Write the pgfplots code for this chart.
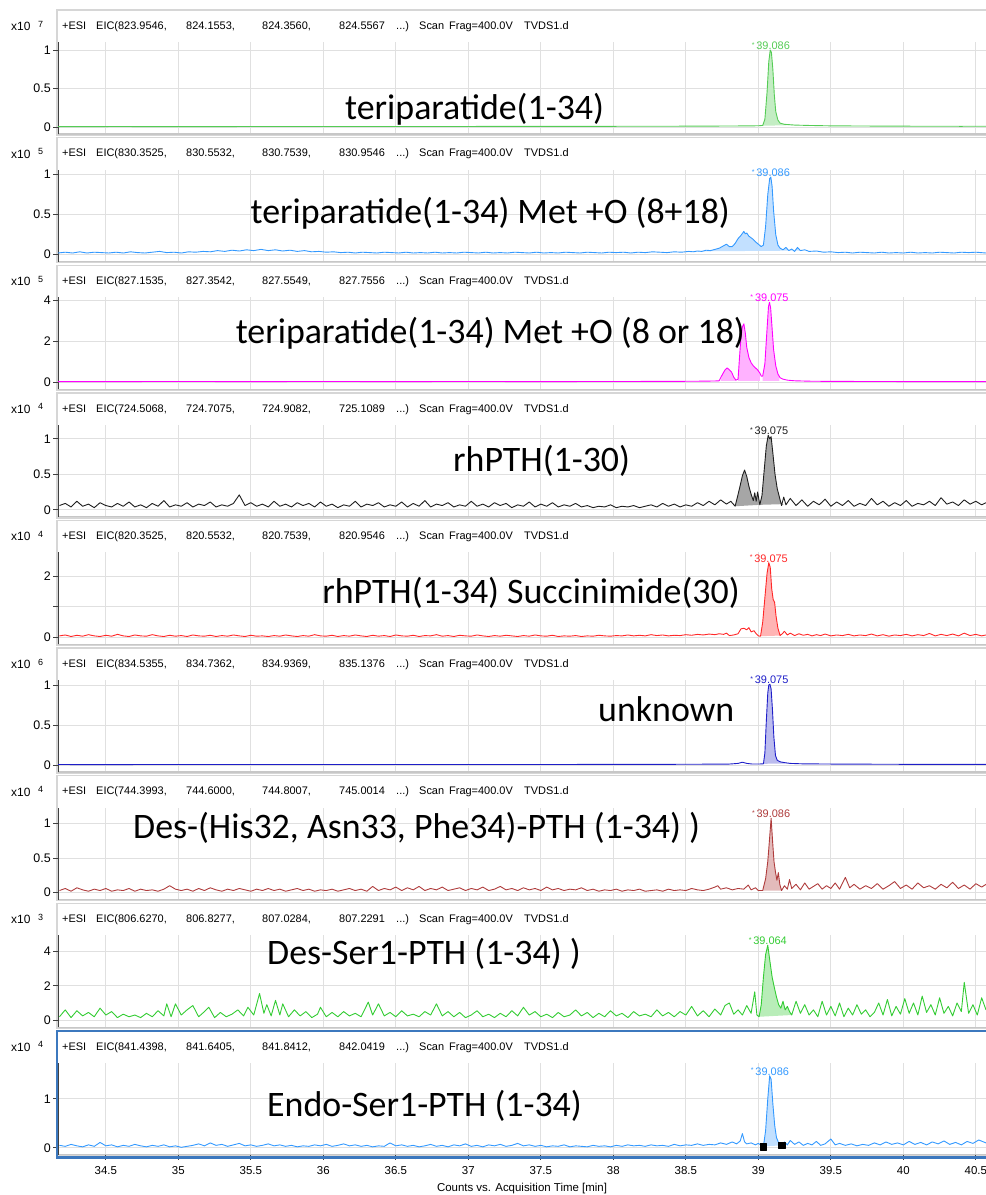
\documentclass[border=0pt]{standalone}
\usepackage{pgfplots}
\pgfplotsset{compat=1.18}
\usepackage{fontspec}
\setmainfont{Liberation Sans}
\newfontfamily\calib{Carlito}

\definecolor{cgreen}{RGB}{85,204,85}
\definecolor{cblue}{RGB}{51,153,255}
\definecolor{cmag}{RGB}{255,0,255}
\definecolor{cblack}{RGB}{30,30,30}
\definecolor{cred}{RGB}{255,40,40}
\definecolor{cnavy}{RGB}{30,30,200}
\definecolor{cbrown}{RGB}{175,60,60}
\definecolor{cgreentwo}{RGB}{51,204,51}
\definecolor{cframe}{RGB}{60,120,190}

\newcommand{\hdr}{\fontsize{11}{13}\selectfont}
\newcommand{\tickf}{\fontsize{11.5}{13}\selectfont}
\newcommand{\ytickf}{\fontsize{12.5}{14}\selectfont}
\newcommand{\biglab}{\calib\fontsize{36}{40}\selectfont}
\newcommand{\pk}[1]{\raisebox{2.5bp}{\fontsize{7}{7}\selectfont *}\,#1}

\pgfplotsset{
  chrom/.style={
    scale only axis, width=928bp, height=92bp, anchor=north west,
    xmin=34.17, xmax=40.57,
    xtick={34.5,35,35.5,36,36.5,37,37.5,38,38.5,39,39.5,40,40.5},
    xticklabels={},
    axis lines*=left, axis line style={-},
    x axis line style={draw=black!22, line width=1.2bp},
    y axis line style={draw=black!75, line width=0.9bp},
    tick align=outside, major tick length=5bp,
    xtick style={draw=none},
    ytick style={draw=black!75, line width=0.9bp},
    xmajorgrids, ymajorgrids,
    major grid style={draw=black!12, line width=0.9bp},
    yticklabel style={font=\ytickf, inner xsep=2bp},
    /pgf/number format/assume math mode=true,
    clip=false,
    every axis plot/.append style={line width=0.9bp, line join=round},
  },
}

% frame, header line and exponent of one panel: top edge (px), exponent, four masses
\newcommand{\panel}[6]{%
  \draw[black!16, line width=1.4bp] (57bp,-#1bp) rectangle (987bp,{-(#1+125)*1bp});
  \begin{scope}[every node/.style={anchor=base west, inner sep=0, font=\hdr}]
    \node at (62bp,{-(#1+19.3)*1bp}) {+ESI};
    \node at (96bp,{-(#1+19.3)*1bp}) {EIC(#3,};
    \node at (186bp,{-(#1+19.3)*1bp}) {#4,};
    \node at (262bp,{-(#1+19.3)*1bp}) {#5,};
    \node at (339bp,{-(#1+19.3)*1bp}) {#6};
    \node at (396bp,{-(#1+19.3)*1bp}) {...)};
    \node at (419bp,{-(#1+19.3)*1bp}) {Scan};
    \node at (449bp,{-(#1+19.3)*1bp}) {Frag=400.0V};
    \node at (524bp,{-(#1+19.3)*1bp}) {TVDS1.d};
    \node[font=\fontsize{12}{13}\selectfont] at (11bp,{-(#1+20.5)*1bp}) {x10};
    \node[font=\fontsize{9}{10}\selectfont] at (38bp,{-(#1+17)*1bp}) {#2};
  \end{scope}
}

\begin{document}
\begin{tikzpicture}
\useasboundingbox (0,0) rectangle (986bp,-1195bp);

\panel{10}{7}{823.9546}{824.1553}{824.3560}{824.5567}
\panel{137.6}{5}{830.3525}{830.5532}{830.7539}{830.9546}
\panel{265.2}{5}{827.1535}{827.3542}{827.5549}{827.7556}
\panel{392.8}{4}{724.5068}{724.7075}{724.9082}{725.1089}
\panel{520.4}{4}{820.3525}{820.5532}{820.7539}{820.9546}
\panel{648}{6}{834.5355}{834.7362}{834.9369}{835.1376}
\panel{775.6}{4}{744.3993}{744.6000}{744.8007}{745.0014}
\panel{903.2}{3}{806.6270}{806.8277}{807.0284}{807.2291}
\panel{1030.8}{4}{841.4398}{841.6405}{841.8412}{842.0419}

% ---------- 1: teriparatide(1-34), x10^7
\begin{axis}[chrom, at={(58bp,-42bp)}, ymin=-0.091, ymax=1.104, ytick={0,0.5,1}]
\addplot[draw=none, fill=cgreen!35, forget plot] coordinates {
 (39.03,0.016)(39.045,0.1)(39.06,0.45)(39.072,0.85)(39.082,1.0)(39.09,0.97)(39.1,0.75)
 (39.11,0.42)(39.12,0.2)(39.135,0.09)(39.15,0.05)(39.18,0.035)(39.25,0.025)};
\addplot[cgreen] coordinates {
 (34.17,0.005)(34.6,0.006)(35.0,0.005)(35.5,0.006)(36.0,0.007)(36.5,0.006)(37.0,0.007)
 (37.5,0.008)(38.0,0.009)(38.4,0.010)(38.7,0.012)(38.9,0.014)(39.0,0.016)(39.03,0.02)
 (39.045,0.1)(39.06,0.45)(39.072,0.85)(39.082,1.0)(39.09,0.97)(39.1,0.75)(39.11,0.42)
 (39.12,0.2)(39.135,0.09)(39.15,0.05)(39.18,0.035)(39.25,0.025)(39.35,0.02)(39.5,0.015)
 (39.8,0.012)(40.1,0.01)(40.4,0.009)(40.57,0.01)};
\node[anchor=south, inner sep=0, font=\hdr, text=cgreen] at (axis cs:39.086,1.0) {\pk{39.086}};
\end{axis}

% ---------- 2: Met +O (8+18), x10^5
\begin{axis}[chrom, at={(58bp,-169.6bp)}, ymin=-0.0875, ymax=1.0625, ytick={0,0.5,1}]
\addplot[draw=none, fill=cblue!30, forget plot] coordinates {
 (38.52,0.04)(38.55,0.035)(38.58,0.045)(38.61,0.04)(38.64,0.055)(38.67,0.05)(38.7,0.065)
 (38.73,0.08)(38.76,0.11)(38.78,0.13)(38.8,0.1)(38.82,0.1)(38.84,0.14)(38.86,0.2)(38.88,0.24)
 (38.9,0.29)(38.91,0.26)(38.92,0.27)(38.935,0.23)(38.95,0.21)(38.965,0.19)(38.98,0.16)
 (39.0,0.13)(39.02,0.1)(39.035,0.12)(39.05,0.35)(39.065,0.75)(39.078,0.95)(39.086,0.97)
 (39.095,0.85)(39.105,0.55)(39.12,0.25)(39.135,0.12)(39.15,0.08)(39.17,0.06)(39.19,0.09)
 (39.21,0.05)(39.23,0.07)(39.25,0.04)(39.27,0.09)(39.29,0.05)};
\addplot[cblue] coordinates {
 (34.17,0.02)(34.22,0.03)(34.27,0.02)(34.32,0.035)(34.37,0.02)(34.42,0.03)(34.47,0.025)
 (34.52,0.02)(34.57,0.03)(34.62,0.02)(34.67,0.035)(34.72,0.025)(34.77,0.02)(34.82,0.03)
 (34.87,0.04)(34.92,0.025)(34.97,0.03)(35.02,0.02)(35.07,0.035)(35.12,0.03)(35.17,0.04)
 (35.22,0.035)(35.27,0.05)(35.32,0.04)(35.37,0.055)(35.42,0.045)(35.47,0.06)(35.52,0.05)
 (35.57,0.065)(35.62,0.05)(35.67,0.06)(35.72,0.045)(35.77,0.055)(35.82,0.04)(35.87,0.05)
 (35.92,0.035)(35.97,0.04)(36.02,0.03)(36.07,0.035)(36.12,0.025)(36.17,0.03)(36.22,0.02)
 (36.27,0.03)(36.32,0.025)(36.37,0.02)(36.42,0.03)(36.47,0.025)(36.52,0.02)(36.57,0.03)
 (36.62,0.02)(36.67,0.025)(36.72,0.02)(36.77,0.03)(36.82,0.02)(36.87,0.025)(36.92,0.02)
 (36.97,0.03)(37.02,0.025)(37.07,0.02)(37.12,0.03)(37.17,0.02)(37.22,0.025)(37.27,0.02)
 (37.32,0.03)(37.37,0.025)(37.42,0.02)(37.47,0.03)(37.52,0.02)(37.57,0.025)(37.62,0.02)
 (37.67,0.03)(37.72,0.025)(37.77,0.02)(37.82,0.03)(37.87,0.025)(37.92,0.02)(37.97,0.03)
 (38.02,0.025)(38.07,0.03)(38.12,0.02)(38.17,0.03)(38.22,0.025)(38.27,0.035)(38.32,0.03)
 (38.37,0.025)(38.42,0.035)(38.47,0.03)(38.52,0.04)
 (38.55,0.035)(38.58,0.045)(38.61,0.04)(38.64,0.055)(38.67,0.05)(38.7,0.065)(38.73,0.08)
 (38.76,0.11)(38.78,0.13)(38.8,0.1)(38.82,0.1)(38.84,0.14)(38.86,0.2)(38.88,0.24)(38.9,0.29)
 (38.91,0.26)(38.92,0.27)(38.935,0.23)(38.95,0.21)(38.965,0.19)(38.98,0.16)(39.0,0.13)
 (39.02,0.1)(39.035,0.12)(39.05,0.35)(39.065,0.75)(39.078,0.95)(39.086,0.97)(39.095,0.85)
 (39.105,0.55)(39.12,0.25)(39.135,0.12)(39.15,0.08)(39.17,0.06)(39.19,0.09)(39.21,0.05)
 (39.23,0.07)(39.25,0.04)(39.27,0.09)(39.29,0.05)(39.32,0.06)(39.35,0.04)(39.4,0.045)
 (39.45,0.03)(39.5,0.035)(39.55,0.025)(39.6,0.03)(39.65,0.02)(39.7,0.03)(39.75,0.025)
 (39.8,0.02)(39.85,0.03)(39.9,0.02)(39.95,0.025)(40.0,0.02)(40.05,0.03)(40.1,0.02)
 (40.15,0.025)(40.2,0.02)(40.25,0.03)(40.3,0.025)(40.35,0.02)(40.4,0.03)(40.45,0.025)
 (40.5,0.03)(40.57,0.02)};
\node[anchor=south, inner sep=0, font=\hdr, text=cblue] at (axis cs:39.086,0.97) {\pk{39.086}};
\end{axis}

% ---------- 3: Met +O (8 or 18), x10^5
\begin{axis}[chrom, at={(58bp,-297.2bp)}, ymin=-0.341, ymax=4.146, ytick={0,2,4}]
\addplot[draw=none, fill=cmag!30, forget plot] coordinates {
 (38.74,0.06)(38.75,0.35)(38.77,0.6)(38.785,0.7)(38.8,0.6)(38.815,0.5)(38.83,0.25)
 (38.845,0.1)(38.845,0.06)};
\addplot[draw=none, fill=cmag!30, forget plot] coordinates {
 (38.86,0.06)(38.86,0.15)(38.87,1.2)(38.88,2.2)(38.89,2.7)(38.9,2.85)(38.91,2.4)(38.92,1.7)
 (38.935,1.2)(38.95,0.95)(38.965,0.8)(38.98,0.7)(38.995,0.6)(39.01,0.45)(39.01,0.06)};
\addplot[draw=none, fill=cmag!30, forget plot] coordinates {
 (39.03,0.06)(39.03,0.3)(39.045,0.9)(39.06,2.6)(39.07,3.7)(39.077,3.9)(39.085,3.6)
 (39.095,2.6)(39.105,1.6)(39.12,0.8)(39.135,0.4)(39.145,0.3)(39.145,0.06)};
\addplot[cmag] coordinates {
 (34.17,0.03)(34.5,0.03)(35,0.035)(35.5,0.03)(36,0.035)(36.5,0.03)(37,0.035)(37.5,0.03)
 (38,0.035)(38.4,0.04)(38.6,0.05)(38.7,0.06)(38.73,0.07)(38.75,0.35)(38.77,0.6)(38.785,0.7)
 (38.8,0.6)(38.815,0.5)(38.83,0.25)(38.845,0.1)(38.86,0.15)(38.87,1.2)(38.88,2.2)(38.89,2.7)
 (38.9,2.85)(38.91,2.4)(38.92,1.7)(38.935,1.2)(38.95,0.95)(38.965,0.8)(38.98,0.7)
 (38.995,0.6)(39.01,0.45)(39.02,0.3)(39.03,0.3)(39.045,0.9)(39.06,2.6)(39.07,3.7)
 (39.077,3.9)(39.085,3.6)(39.095,2.6)(39.105,1.6)(39.12,0.8)(39.135,0.4)(39.15,0.22)
 (39.17,0.15)(39.2,0.1)(39.25,0.07)(39.35,0.05)(39.5,0.04)(39.8,0.035)(40.1,0.03)
 (40.4,0.03)(40.57,0.03)};
\node[anchor=south, inner sep=0, font=\hdr, text=cmag] at (axis cs:39.077,3.9) {\pk{39.075}};
\end{axis}

% ---------- 4: rhPTH(1-30), x10^4
\begin{axis}[chrom, at={(58bp,-424.8bp)}, ymin=-0.0986, ymax=1.197, ytick={0,0.5,1}]
\addplot[draw=none, fill=black!35, forget plot] coordinates {
 (38.84,0.05)(38.87,0.30)(38.89,0.48)(38.905,0.56)(38.92,0.47)(38.935,0.33)(38.95,0.22)
 (38.965,0.13)(38.975,0.24)(38.985,0.12)(38.995,0.25)(39.01,0.07)};
\addplot[draw=none, fill=black!35, forget plot] coordinates {
 (39.01,0.07)(39.025,0.2)(39.04,0.55)(39.055,0.9)(39.068,1.05)(39.078,1.0)(39.088,1.03)
 (39.1,0.8)(39.115,0.5)(39.13,0.3)(39.145,0.18)(39.16,0.06)(39.175,0.08)};
\addplot[cblack] coordinates {
 (34.18,0.06)(34.22,0.09)(34.26,0.04)(34.30,0.12)(34.34,0.05)(34.38,0.08)(34.42,0.03)
 (34.46,0.10)(34.50,0.06)(34.54,0.04)(34.58,0.09)(34.62,0.05)(34.66,0.11)(34.70,0.04)
 (34.74,0.07)(34.78,0.03)(34.82,0.09)(34.86,0.05)(34.90,0.13)(34.94,0.04)(34.98,0.07)
 (35.02,0.05)(35.06,0.10)(35.10,0.04)(35.14,0.08)(35.18,0.06)(35.22,0.11)(35.26,0.04)
 (35.30,0.07)(35.34,0.05)(35.38,0.09)(35.42,0.21)(35.46,0.06)(35.50,0.10)(35.54,0.05)
 (35.58,0.08)(35.62,0.04)(35.66,0.12)(35.70,0.05)(35.74,0.08)(35.78,0.04)(35.82,0.10)
 (35.86,0.06)(35.90,0.09)(35.94,0.04)(35.98,0.11)(36.02,0.05)(36.06,0.08)(36.10,0.03)
 (36.14,0.07)(36.18,0.05)(36.22,0.12)(36.26,0.04)(36.30,0.08)(36.34,0.06)(36.38,0.10)
 (36.42,0.04)(36.46,0.07)(36.50,0.05)(36.54,0.11)(36.58,0.04)(36.62,0.09)(36.66,0.05)
 (36.70,0.13)(36.74,0.04)(36.78,0.08)(36.82,0.06)(36.86,0.10)(36.90,0.04)(36.94,0.07)
 (36.98,0.05)(37.02,0.12)(37.06,0.05)(37.10,0.08)(37.14,0.04)(37.18,0.10)(37.22,0.06)
 (37.26,0.09)(37.30,0.03)(37.34,0.07)(37.38,0.05)(37.42,0.11)(37.46,0.04)(37.50,0.08)
 (37.54,0.05)(37.58,0.10)(37.62,0.04)(37.66,0.07)(37.70,0.05)(37.74,0.09)(37.78,0.04)
 (37.82,0.06)(37.86,0.03)(37.90,0.05)(37.94,0.04)(37.98,0.07)(38.02,0.03)(38.06,0.05)
 (38.10,0.04)(38.14,0.06)(38.18,0.03)(38.22,0.05)(38.26,0.07)(38.30,0.04)(38.34,0.09)
 (38.38,0.05)(38.42,0.08)(38.46,0.04)(38.50,0.07)(38.54,0.05)(38.58,0.10)(38.62,0.06)
 (38.66,0.12)(38.70,0.07)(38.74,0.14)(38.78,0.08)(38.81,0.12)
 (38.84,0.05)(38.87,0.30)(38.89,0.48)(38.905,0.56)(38.92,0.47)(38.935,0.33)(38.95,0.22)
 (38.965,0.13)(38.975,0.24)(38.985,0.12)(38.995,0.25)(39.01,0.07)(39.025,0.2)(39.04,0.55)
 (39.055,0.9)(39.068,1.05)(39.078,1.0)(39.088,1.03)(39.1,0.8)(39.115,0.5)(39.13,0.3)
 (39.145,0.18)(39.16,0.06)(39.175,0.18)(39.19,0.07)(39.22,0.16)(39.26,0.06)(39.30,0.14)
 (39.34,0.05)(39.38,0.12)(39.42,0.07)(39.46,0.15)(39.50,0.05)(39.54,0.11)(39.58,0.06)
 (39.62,0.13)(39.66,0.05)(39.70,0.09)(39.74,0.06)(39.78,0.16)(39.82,0.07)(39.86,0.12)
 (39.90,0.05)(39.94,0.10)(39.98,0.06)(40.02,0.13)(40.06,0.05)(40.10,0.09)(40.14,0.07)
 (40.18,0.12)(40.22,0.06)(40.26,0.17)(40.30,0.08)(40.34,0.11)(40.38,0.06)(40.42,0.14)
 (40.46,0.08)(40.50,0.12)(40.54,0.07)(40.57,0.10)};
\node[anchor=south, inner sep=0, font=\hdr, text=cblack] at (axis cs:39.075,1.05) {\pk{39.075}};
\end{axis}

% ---------- 5: rhPTH(1-34) Succinimide(30), x10^4
\begin{axis}[chrom, at={(58bp,-552.4bp)}, ymin=-0.2295, ymax=2.787, ytick={0,1,2}, yticklabels={0,,2}]
\addplot[draw=none, fill=cred!35, forget plot] coordinates {
 (39.015,0.04)(39.03,0.5)(39.045,1.3)(39.06,2.1)(39.072,2.45)(39.082,2.3)(39.092,1.6)
 (39.102,1.25)(39.112,1.15)(39.122,0.7)(39.135,0.3)(39.15,0.06)};
\addplot[cred] coordinates {
 (34.18,0.05)(34.22,0.08)(34.26,0.03)(34.30,0.07)(34.34,0.04)(34.38,0.09)(34.42,0.05)
 (34.46,0.03)(34.50,0.07)(34.54,0.04)(34.58,0.10)(34.62,0.05)(34.66,0.03)(34.70,0.08)
 (34.74,0.05)(34.78,0.04)(34.82,0.09)(34.86,0.05)(34.90,0.03)(34.94,0.07)(34.98,0.04)
 (35.02,0.06)(35.06,0.03)(35.10,0.08)(35.14,0.05)(35.18,0.04)(35.22,0.07)(35.26,0.03)
 (35.30,0.06)(35.34,0.04)(35.38,0.08)(35.42,0.05)(35.46,0.03)(35.50,0.07)(35.54,0.04)
 (35.58,0.05)(35.62,0.03)(35.66,0.06)(35.70,0.04)(35.74,0.08)(35.78,0.05)(35.82,0.03)
 (35.86,0.06)(35.90,0.04)(35.94,0.09)(35.98,0.05)(36.02,0.04)(36.06,0.07)(36.10,0.03)
 (36.14,0.06)(36.18,0.04)(36.22,0.08)(36.26,0.05)(36.30,0.03)(36.34,0.07)(36.38,0.04)
 (36.42,0.06)(36.46,0.03)(36.50,0.08)(36.54,0.05)(36.58,0.04)(36.62,0.07)(36.66,0.03)
 (36.70,0.06)(36.74,0.05)(36.78,0.09)(36.82,0.04)(36.86,0.06)(36.90,0.03)(36.94,0.07)
 (36.98,0.05)(37.02,0.04)(37.06,0.08)(37.10,0.05)(37.14,0.03)(37.18,0.06)(37.22,0.04)
 (37.26,0.07)(37.30,0.05)(37.34,0.03)(37.38,0.06)(37.42,0.04)(37.46,0.08)(37.50,0.05)
 (37.54,0.04)(37.58,0.07)(37.62,0.03)(37.66,0.05)(37.70,0.04)(37.74,0.06)(37.78,0.03)
 (37.82,0.05)(37.86,0.04)(37.90,0.07)(37.94,0.05)(37.98,0.04)(38.02,0.06)(38.06,0.05)
 (38.10,0.08)(38.14,0.05)(38.18,0.07)(38.22,0.05)(38.26,0.09)(38.30,0.06)(38.34,0.08)
 (38.38,0.05)(38.42,0.07)(38.46,0.06)(38.50,0.09)(38.54,0.07)(38.58,0.10)(38.62,0.08)
 (38.66,0.11)(38.70,0.09)(38.73,0.12)(38.76,0.10)(38.78,0.14)(38.80,0.06)(38.83,0.08)
 (38.86,0.12)(38.88,0.28)(38.90,0.30)(38.92,0.25)(38.935,0.32)(38.95,0.18)(38.97,0.22)
 (38.985,0.12)(39.0,0.05)(39.015,0.04)(39.03,0.5)(39.045,1.3)(39.06,2.1)(39.072,2.45)
 (39.082,2.3)(39.092,1.6)(39.102,1.25)(39.112,1.15)(39.122,0.7)(39.135,0.3)(39.15,0.06)
 (39.165,0.12)(39.18,0.20)(39.2,0.08)(39.22,0.14)(39.25,0.06)(39.28,0.12)(39.31,0.07)
 (39.34,0.10)(39.37,0.05)(39.40,0.09)(39.43,0.06)(39.46,0.11)(39.50,0.05)(39.54,0.08)
 (39.58,0.06)(39.62,0.10)(39.66,0.05)(39.70,0.08)(39.74,0.06)(39.78,0.11)(39.82,0.05)
 (39.86,0.09)(39.90,0.04)(39.94,0.08)(39.98,0.06)(40.02,0.10)(40.06,0.05)(40.10,0.09)
 (40.14,0.06)(40.18,0.13)(40.22,0.05)(40.26,0.10)(40.30,0.06)(40.34,0.11)(40.38,0.05)
 (40.42,0.14)(40.46,0.06)(40.50,0.10)(40.54,0.05)(40.57,0.08)};
\node[anchor=south, inner sep=0, font=\hdr, text=cred] at (axis cs:39.072,2.45) {\pk{39.075}};
\end{axis}

% ---------- 6: unknown, x10^6
\begin{axis}[chrom, at={(58bp,-680bp)}, ymin=-0.0875, ymax=1.0625, ytick={0,0.5,1}]
\addplot[draw=none, fill=cnavy!30, forget plot] coordinates {
 (39.035,0.015)(39.045,0.15)(39.055,0.55)(39.065,0.9)(39.072,1.0)(39.08,1.01)(39.088,0.95)
 (39.097,0.7)(39.107,0.35)(39.118,0.12)(39.13,0.06)(39.15,0.04)(39.18,0.03)(39.22,0.02)};
\addplot[cnavy] coordinates {
 (34.17,0.006)(34.5,0.005)(35,0.007)(35.5,0.006)(36,0.007)(36.5,0.006)(37,0.007)
 (37.5,0.006)(38,0.008)(38.3,0.008)(38.6,0.01)(38.8,0.012)(38.86,0.02)(38.89,0.035)
 (38.92,0.02)(38.96,0.012)(39.0,0.012)(39.035,0.015)(39.045,0.15)(39.055,0.55)(39.065,0.9)
 (39.072,1.0)(39.08,1.01)(39.088,0.95)(39.097,0.7)(39.107,0.35)(39.118,0.12)(39.13,0.06)
 (39.15,0.04)(39.18,0.03)(39.22,0.02)(39.3,0.015)(39.5,0.012)(39.8,0.01)(40.1,0.008)
 (40.4,0.007)(40.57,0.007)};
\node[anchor=south, inner sep=0, font=\hdr, text=cnavy] at (axis cs:39.076,1.01) {\pk{39.075}};
\end{axis}

% ---------- 7: Des-(His32, Asn33, Phe34), x10^4
\begin{axis}[chrom, at={(58bp,-807.6bp)}, ymin=-0.1014, ymax=1.232, ytick={0,0.5,1}]
\addplot[draw=none, fill=cbrown!35, forget plot] coordinates {
 (39.03,0.03)(39.05,0.2)(39.065,0.45)(39.078,0.8)(39.088,1.08)(39.098,0.75)(39.108,0.45)
 (39.118,0.3)(39.128,0.18)(39.138,0.29)(39.148,0.12)(39.16,0.03)};
\addplot[cbrown] coordinates {
 (34.18,0.03)(34.22,0.06)(34.26,0.02)(34.30,0.07)(34.34,0.04)(34.38,0.02)(34.42,0.05)
 (34.46,0.03)(34.50,0.06)(34.54,0.02)(34.58,0.04)(34.62,0.03)(34.66,0.06)(34.70,0.02)
 (34.74,0.05)(34.78,0.03)(34.82,0.04)(34.86,0.02)(34.90,0.05)(34.94,0.10)(34.98,0.05)
 (35.02,0.03)(35.06,0.05)(35.10,0.02)(35.14,0.06)(35.18,0.03)(35.22,0.07)(35.26,0.04)
 (35.30,0.02)(35.34,0.05)(35.38,0.03)(35.42,0.06)(35.46,0.04)(35.50,0.02)(35.54,0.05)
 (35.58,0.03)(35.62,0.06)(35.66,0.03)(35.70,0.05)(35.74,0.02)(35.78,0.04)(35.82,0.06)
 (35.86,0.03)(35.90,0.05)(35.94,0.02)(35.98,0.04)(36.02,0.03)(36.06,0.05)(36.10,0.02)
 (36.14,0.04)(36.18,0.06)(36.22,0.03)(36.26,0.05)(36.30,0.02)(36.34,0.09)(36.38,0.03)
 (36.42,0.06)(36.46,0.04)(36.50,0.08)(36.54,0.03)(36.58,0.07)(36.62,0.04)(36.66,0.09)
 (36.70,0.03)(36.74,0.06)(36.78,0.04)(36.82,0.08)(36.86,0.03)(36.90,0.05)(36.94,0.07)
 (36.98,0.03)(37.02,0.06)(37.06,0.04)(37.10,0.08)(37.14,0.03)(37.18,0.05)(37.22,0.09)
 (37.26,0.04)(37.30,0.06)(37.34,0.03)(37.38,0.07)(37.42,0.04)(37.46,0.06)(37.50,0.03)
 (37.54,0.08)(37.58,0.04)(37.62,0.06)(37.66,0.03)(37.70,0.05)(37.74,0.04)(37.78,0.07)
 (37.82,0.03)(37.86,0.05)(37.90,0.02)(37.94,0.04)(37.98,0.03)(38.02,0.05)(38.06,0.02)
 (38.10,0.04)(38.14,0.03)(38.18,0.05)(38.22,0.02)(38.26,0.03)(38.30,0.04)(38.34,0.02)
 (38.38,0.05)(38.42,0.03)(38.46,0.04)(38.50,0.03)(38.54,0.06)(38.58,0.04)(38.62,0.03)
 (38.66,0.05)(38.70,0.08)(38.72,0.10)(38.74,0.05)(38.78,0.07)(38.82,0.04)(38.86,0.06)
 (38.90,0.05)(38.93,0.11)(38.95,0.04)(38.98,0.07)(39.0,0.03)(39.03,0.03)(39.05,0.2)
 (39.065,0.45)(39.078,0.8)(39.088,1.08)(39.098,0.75)(39.108,0.45)(39.118,0.3)(39.128,0.18)
 (39.138,0.29)(39.148,0.12)(39.16,0.03)(39.18,0.1)(39.2,0.05)(39.215,0.19)(39.23,0.06)
 (39.26,0.12)(39.29,0.04)(39.32,0.14)(39.35,0.05)(39.38,0.09)(39.41,0.13)(39.44,0.05)
 (39.47,0.10)(39.50,0.06)(39.53,0.14)(39.56,0.05)(39.60,0.22)(39.63,0.07)(39.66,0.12)
 (39.70,0.05)(39.74,0.10)(39.78,0.06)(39.82,0.13)(39.86,0.05)(39.90,0.10)(39.94,0.16)
 (39.98,0.06)(40.02,0.11)(40.06,0.05)(40.10,0.14)(40.14,0.07)(40.18,0.10)(40.22,0.05)
 (40.26,0.12)(40.30,0.07)(40.34,0.15)(40.38,0.06)(40.42,0.11)(40.46,0.05)(40.50,0.13)
 (40.54,0.08)(40.57,0.12)};
\node[anchor=south, inner sep=0, font=\hdr, text=cbrown] at (axis cs:39.088,1.08) {\pk{39.086}};
\end{axis}

% ---------- 8: Des-Ser1-PTH, x10^3
\begin{axis}[chrom, at={(58bp,-935.2bp)}, ymin=-0.406, ymax=4.928, ytick={0,2,4}]
\addplot[draw=none, fill=cgreentwo!35, forget plot] coordinates {
 (39.005,0.2)(39.02,0.9)(39.035,2.5)(39.05,3.8)(39.065,4.35)(39.08,3.4)(39.095,2.5)
 (39.11,1.9)(39.125,1.35)(39.14,0.9)(39.155,0.7)(39.17,1.1)(39.185,0.6)(39.2,0.8)
 (39.215,0.5)(39.23,0.3)};
\addplot[cgreentwo] coordinates {
 (34.18,0.2)(34.22,0.6)(34.26,0.15)(34.30,0.55)(34.34,0.25)(34.38,0.45)(34.42,0.2)
 (34.46,0.7)(34.50,0.3)(34.54,0.5)(34.58,0.15)(34.62,0.35)(34.66,0.2)(34.70,0.3)
 (34.74,0.15)(34.78,0.4)(34.82,0.2)(34.86,0.55)(34.90,0.25)(34.92,0.95)(34.95,0.2)
 (34.98,0.95)(35.02,0.3)(35.06,0.6)(35.10,0.85)(35.14,0.2)(35.18,0.5)(35.21,0.75)
 (35.25,0.15)(35.29,0.45)(35.33,0.2)(35.37,0.35)(35.41,0.6)(35.45,0.25)(35.48,0.75)
 (35.52,0.3)(35.56,1.55)(35.59,0.4)(35.61,0.9)(35.64,0.25)(35.67,1.15)(35.70,0.3)
 (35.72,0.95)(35.76,0.2)(35.80,0.6)(35.84,0.25)(35.88,0.5)(35.92,0.15)(35.96,0.35)
 (35.98,0.75)(36.02,0.2)(36.06,0.45)(36.10,0.2)(36.14,0.5)(36.18,0.25)(36.22,0.4)
 (36.26,0.2)(36.31,1.05)(36.34,0.3)(36.38,0.95)(36.42,0.25)(36.46,0.45)(36.50,0.2)
 (36.54,0.55)(36.58,0.25)(36.62,0.35)(36.66,0.2)(36.70,0.5)(36.74,0.3)(36.78,0.95)
 (36.82,0.25)(36.86,0.5)(36.90,0.2)(36.94,0.45)(36.98,0.15)(37.02,0.3)(37.06,0.55)
 (37.10,0.2)(37.14,0.35)(37.18,0.15)(37.22,0.4)(37.26,0.2)(37.30,0.55)(37.34,0.25)
 (37.38,0.75)(37.42,0.3)(37.46,0.5)(37.50,0.2)(37.54,0.35)(37.58,0.15)(37.62,0.45)
 (37.66,0.2)(37.70,0.3)(37.74,0.6)(37.78,0.25)(37.82,0.45)(37.86,0.15)(37.90,0.4)
 (37.94,0.2)(37.98,0.55)(38.02,0.25)(38.06,0.4)(38.10,0.15)(38.14,0.5)(38.18,0.25)
 (38.22,0.35)(38.26,0.2)(38.30,0.6)(38.34,0.25)(38.38,0.45)(38.42,0.2)(38.46,0.5)
 (38.50,0.3)(38.54,0.8)(38.58,0.25)(38.62,0.55)(38.66,0.2)(38.70,0.65)(38.74,0.3)
 (38.77,0.85)(38.80,1.0)(38.83,0.35)(38.86,0.6)(38.89,0.3)(38.92,0.85)(38.95,0.4)
 (38.975,1.65)(38.99,0.3)(39.005,0.2)(39.02,0.9)(39.035,2.5)(39.05,3.8)(39.065,4.35)
 (39.08,3.4)(39.095,2.5)(39.11,1.9)(39.125,1.35)(39.14,0.9)(39.155,0.7)(39.17,1.1)
 (39.185,0.6)(39.2,0.8)(39.215,0.5)(39.23,0.3)(39.26,1.1)(39.29,0.4)(39.32,0.9)
 (39.35,0.3)(39.38,0.6)(39.41,0.2)(39.44,1.1)(39.47,0.3)(39.50,0.8)(39.53,0.25)
 (39.56,1.0)(39.59,0.2)(39.62,0.7)(39.65,0.3)(39.68,0.9)(39.71,0.35)(39.74,0.6)
 (39.77,0.2)(39.80,0.45)(39.83,1.0)(39.86,0.3)(39.89,1.2)(39.92,0.25)(39.95,0.8)
 (39.98,0.35)(40.01,1.25)(40.04,0.4)(40.07,1.0)(40.10,0.3)(40.13,1.4)(40.16,0.45)
 (40.19,0.9)(40.22,0.3)(40.25,1.3)(40.28,0.4)(40.31,0.8)(40.34,0.25)(40.37,1.0)
 (40.40,0.5)(40.42,2.2)(40.45,0.4)(40.48,0.9)(40.51,0.3)(40.54,1.3)(40.57,0.6)};
\node[anchor=south, inner sep=0, font=\hdr, text=cgreentwo] at (axis cs:39.065,4.35) {\pk{39.064}};
\end{axis}

% ---------- 9: Endo-Ser1-PTH, x10^4
\begin{axis}[chrom, at={(58bp,-1062.8bp)}, ymin=-0.143, ymax=1.735, ytick={0,1},
  xtick style={draw=black!75, line width=0.9bp},
  xticklabels={34.5,35,35.5,36,36.5,37,37.5,38,38.5,39,39.5,40,40.5},
  xticklabel style={font=\tickf, yshift=-3bp},
  xlabel={Counts vs. Acquisition Time [min]},
  xlabel style={font=\tickf, yshift=-2bp}]
\addplot[draw=none, fill=cblue!30, forget plot] coordinates {
 (39.035,0.03)(39.05,0.35)(39.065,1.0)(39.078,1.47)(39.088,1.4)(39.1,0.9)(39.113,0.45)
 (39.125,0.21)(39.14,0.1)(39.163,0.05)};
\addplot[cblue] coordinates {
 (34.18,0.05)(34.22,0.03)(34.26,0.07)(34.30,0.04)(34.34,0.02)(34.38,0.06)(34.42,0.03)
 (34.46,0.11)(34.50,0.04)(34.54,0.06)(34.58,0.02)(34.62,0.05)(34.66,0.03)(34.70,0.07)
 (34.74,0.04)(34.78,0.02)(34.82,0.05)(34.86,0.03)(34.90,0.06)(34.94,0.02)(34.98,0.04)
 (35.02,0.01)(35.06,0.03)(35.10,0.05)(35.14,0.08)(35.18,0.04)(35.22,0.10)(35.26,0.05)
 (35.30,0.07)(35.34,0.03)(35.38,0.06)(35.42,0.09)(35.46,0.04)(35.50,0.06)(35.54,0.03)
 (35.58,0.05)(35.62,0.08)(35.66,0.04)(35.70,0.06)(35.74,0.03)(35.78,0.05)(35.82,0.02)
 (35.86,0.04)(35.90,0.03)(35.94,0.06)(35.98,0.04)(36.02,0.07)(36.06,0.03)(36.10,0.05)
 (36.14,0.08)(36.18,0.04)(36.22,0.06)(36.26,0.03)(36.30,0.05)(36.34,0.02)(36.38,0.04)
 (36.42,0.03)(36.46,0.10)(36.50,0.04)(36.54,0.06)(36.58,0.03)(36.62,0.05)(36.66,0.02)
 (36.70,0.04)(36.74,0.07)(36.78,0.03)(36.82,0.05)(36.86,0.02)(36.90,0.06)(36.94,0.04)
 (36.98,0.08)(37.02,0.03)(37.06,0.05)(37.10,0.02)(37.14,0.06)(37.18,0.04)(37.22,0.07)
 (37.26,0.03)(37.30,0.05)(37.34,0.09)(37.38,0.04)(37.42,0.06)(37.46,0.03)(37.50,0.05)
 (37.54,0.02)(37.58,0.04)(37.62,0.03)(37.66,0.06)(37.70,0.02)(37.74,0.04)(37.78,0.03)
 (37.82,0.02)(37.86,0.05)(37.90,0.03)(37.94,0.04)(37.98,0.02)(38.02,0.05)(38.06,0.03)
 (38.10,0.06)(38.14,0.04)(38.18,0.05)(38.22,0.03)(38.26,0.06)(38.30,0.04)(38.34,0.05)
 (38.38,0.03)(38.42,0.07)(38.46,0.04)(38.50,0.06)(38.54,0.05)(38.58,0.08)(38.62,0.05)
 (38.66,0.07)(38.70,0.06)(38.74,0.10)(38.78,0.07)(38.82,0.12)(38.85,0.08)(38.875,0.14)
 (38.89,0.29)(38.905,0.12)(38.92,0.08)(38.95,0.10)(38.98,0.06)(39.0,0.09)(39.02,0.05)
 (39.035,0.03)(39.05,0.35)(39.065,1.0)(39.078,1.47)(39.088,1.4)(39.1,0.9)(39.113,0.45)
 (39.125,0.21)(39.14,0.1)(39.163,0.05)(39.18,0.12)(39.2,0.06)(39.22,0.15)(39.25,0.07)
 (39.28,0.12)(39.31,0.05)(39.34,0.09)(39.37,0.06)(39.40,0.13)(39.43,0.05)(39.46,0.08)
 (39.50,0.18)(39.53,0.06)(39.56,0.09)(39.60,0.05)(39.64,0.08)(39.68,0.04)(39.72,0.07)
 (39.76,0.05)(39.80,0.10)(39.84,0.06)(39.88,0.12)(39.92,0.07)(39.96,0.10)(40.00,0.06)
 (40.04,0.13)(40.08,0.07)(40.12,0.11)(40.16,0.06)(40.20,0.12)(40.24,0.08)(40.28,0.14)
 (40.32,0.07)(40.36,0.11)(40.40,0.06)(40.44,0.13)(40.48,0.09)(40.52,0.16)(40.57,0.10)};
\addplot[only marks, mark=square*, mark size=3.2bp, black] coordinates {(39.034,0.02)(39.163,0.05)};
\node[anchor=south, inner sep=0, font=\hdr, text=cblue] at (axis cs:39.08,1.47) {\pk{39.086}};
\end{axis}

\draw[cframe, line width=2.2bp] (57bp,-1030.8bp) rectangle (987bp,-1157.5bp);

% compound names
\node[anchor=base west, inner sep=0, font=\biglab] at (345bp,-119bp) {teriparatide(1-34)};
\node[anchor=base east, inner sep=0, font=\biglab] at (730bp,-223bp) {teriparatide(1-34) Met +O (8+18)};
\node[anchor=base east, inner sep=0, font=\biglab] at (745bp,-343bp) {teriparatide(1-34) Met +O (8 or 18)};
\node[anchor=base west, inner sep=0, font=\biglab] at (453bp,-471bp) {rhPTH(1-30)};
\node[anchor=base east, inner sep=0, font=\biglab] at (740bp,-603bp) {rhPTH(1-34) Succinimide(30)};
\node[anchor=base west, inner sep=0, font=\biglab] at (598bp,-721bp) {unknown};
\node[anchor=base west, inner sep=0, font=\biglab] at (133bp,-838bp) {Des-(His32, Asn33, Phe34)-PTH (1-34) )};
\node[anchor=base west, inner sep=0, font=\biglab] at (267bp,-964bp) {Des-Ser1-PTH (1-34) )};
\node[anchor=base west, inner sep=0, font=\biglab] at (267bp,-1116bp) {Endo-Ser1-PTH (1-34)};
\end{tikzpicture}
\end{document}
